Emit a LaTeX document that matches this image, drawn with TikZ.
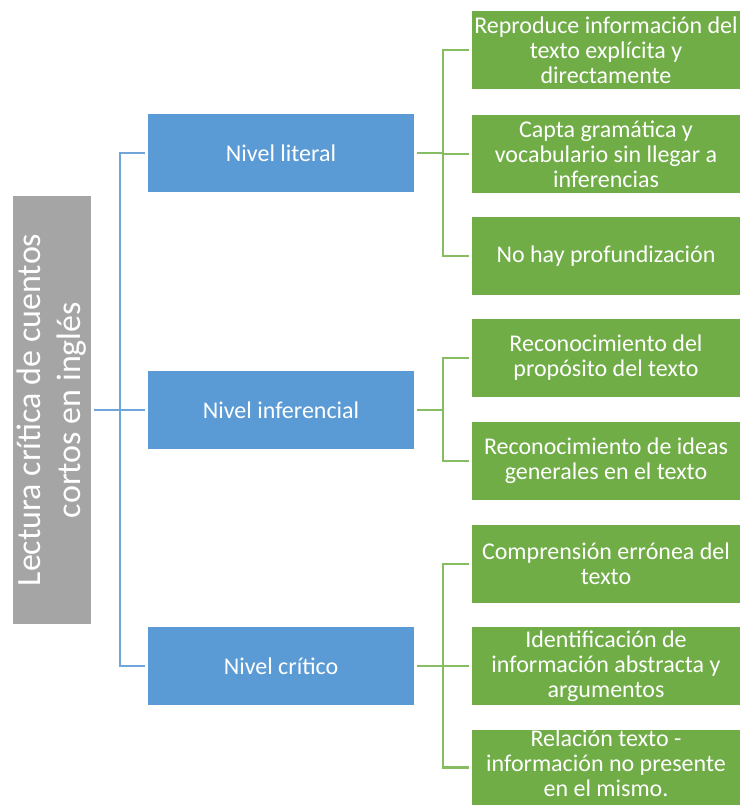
\documentclass[tikz,border=0pt]{standalone}
\usepackage{fontspec}
\setmainfont{Carlito}
\usetikzlibrary{calc}
\definecolor{rootgray}{HTML}{A5A5A5}
\definecolor{boxblue}{HTML}{5B9BD5}
\definecolor{boxgreen}{HTML}{70AD47}
\definecolor{lineblue}{HTML}{6FA6DA}
\definecolor{linegreen}{HTML}{86BD62}

\begin{document}
\begin{tikzpicture}[x=1pt,y=-1pt,
    rootbox/.style={fill=rootgray, text=white, rotate=90, inner sep=0pt, outer sep=3pt,
      minimum width=428pt, minimum height=78pt, align=center,
      font=\fontsize{34}{40}\selectfont},
    levelbox/.style={fill=boxblue, text=white, inner sep=0pt, outer sep=3pt,
      minimum width=266pt, minimum height=78pt,
      font=\fontsize{24}{25}\selectfont},
    itembox/.style={fill=boxgreen, text=white, inner sep=0pt, outer sep=3pt,
      minimum width=268pt, minimum height=78pt, align=center,
      font=\fontsize{24}{25}\selectfont},
    bline/.style={draw=lineblue, line width=2.3pt},
    gline/.style={draw=linegreen, line width=2.3pt}]
      \useasboundingbox (0,0) rectangle (741,805);

      \node[rootbox] (root) at (52,410) {Lectura crítica de cuentos\\cortos en inglés};

      \node[levelbox] (lit) at (281,153) {Nivel literal};
      \node[levelbox] (inf) at (281,410) {Nivel inferencial};
      \node[levelbox] (cri) at (281,666) {Nivel crítico};

      \node[itembox] (lit1) at (606,50) {Reproduce información del\\texto explícita y\\directamente};
      \node[itembox] (lit2) at (606,154) {Capta gramática y\\vocabulario sin llegar a\\inferencias};
      \node[itembox] (lit3) at (606,256) {No hay profundización};

      \node[itembox] (inf1) at (606,358) {Reconocimiento del\\propósito del texto};
      \node[itembox] (inf2) at (606,461) {Reconocimiento de ideas\\generales en el texto};

      \node[itembox] (cri1) at (606,564) {Comprensión errónea del\\texto};
      \node[itembox] (cri2) at (606,666) {Identificación de\\información abstracta y\\argumentos};
      \node[itembox, minimum height=75pt, text depth=8pt] (cri3) at (606,767.5) {Relación texto -\\información no presente\\en el mismo.};

      \draw[bline] (root.south) -- (inf.west);
      \draw[bline] (lit.west) -- ++(-25,0) |- (cri.west);

      \draw[gline] (lit.east) -- ++(26,0) |- (lit1.west);
      \draw[gline] (lit.east) -- ++(26,0) |- (lit2.west);
      \draw[gline] (lit.east) -- ++(26,0) |- (lit3.west);
      \draw[gline] (inf.east) -- ++(26,0) |- (inf1.west);
      \draw[gline] (inf.east) -- ++(26,0) |- (inf2.west);
      \draw[gline] (cri.east) -- ++(26,0) |- (cri1.west);
      \draw[gline] (cri.east) -- ++(26,0) |- (cri2.west);
      \draw[gline] (cri.east) -- ++(26,0) |- (cri3.west);
\end{tikzpicture}
\end{document}
